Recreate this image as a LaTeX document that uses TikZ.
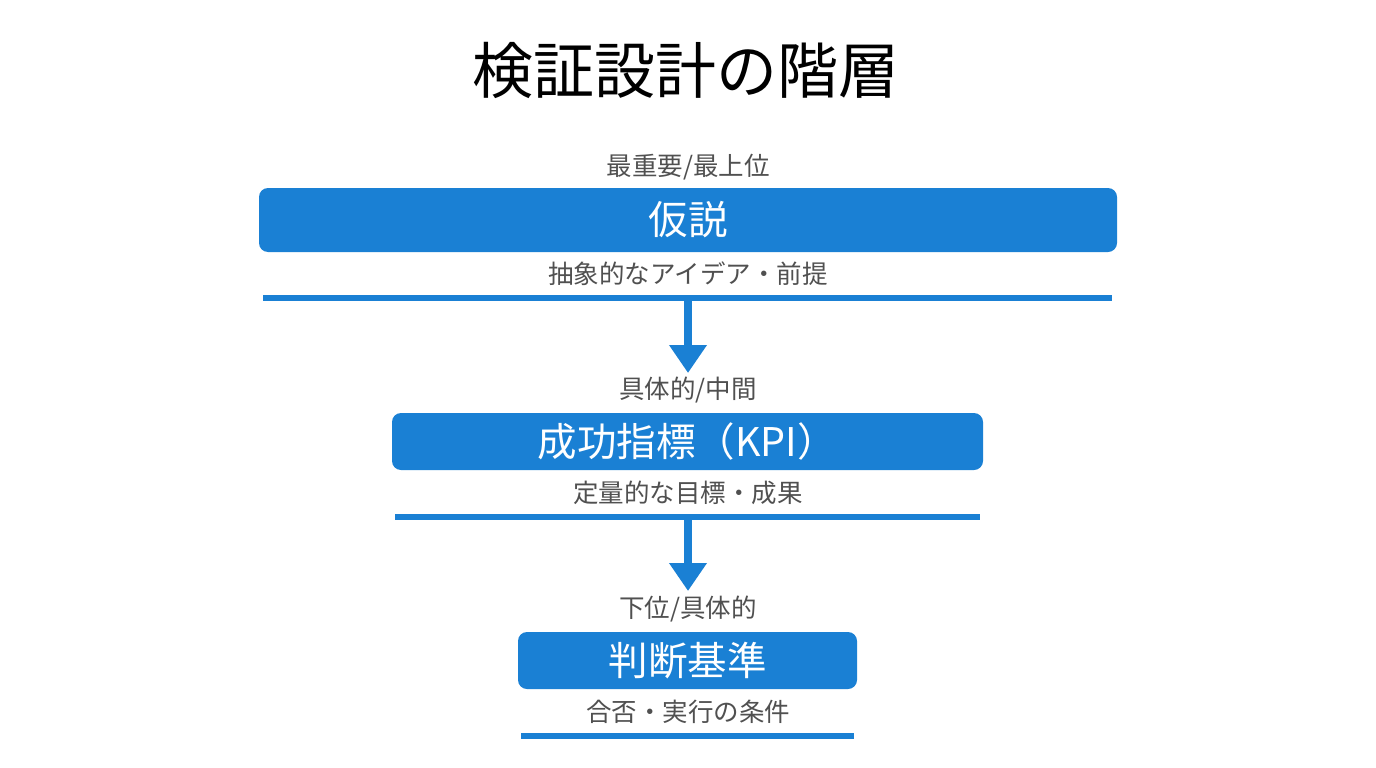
\documentclass[tikz,border=0pt]{standalone}
\usepackage{fontspec}
\setmainfont{Noto Sans CJK JP}
\usetikzlibrary{arrows.meta}
\definecolor{boxblue}{HTML}{1A80D4}
\definecolor{labgray}{HTML}{505050}
\begin{document}
\begin{tikzpicture}[x=1pt,y=-1pt,
  box/.style={fill=boxblue, rounded corners=9pt, inner sep=0pt, text=white, font=\fontsize{39.5}{39.5}\selectfont},
  bar/.style={fill=boxblue, inner sep=0pt, minimum height=6pt},
  lab/.style={text=labgray, inner sep=0pt, font=\fontsize{25.5}{25.5}\selectfont},
  arr/.style={draw=boxblue, line width=8pt, -{Triangle[width=36pt,length=28pt]}}]
\useasboundingbox[fill=white] (0,0) rectangle (1376,768);
\node[inner sep=0pt, font=\fontsize{61}{61}\selectfont] (title) at (686,70) {検証設計の階層};
% level 1
\node[lab] (t1) at (688,167) {最重要/最上位};
\node[box, minimum width=858pt, minimum height=64pt] (b1) at (688,220) {仮説};
\node[lab] (s1) at (688,274) {抽象的なアイデア・前提};
\node[bar, minimum width=849pt] (l1) at (687.5,298) {};
% level 2
\node[lab] (t2) at (688,390) {具体的/中間};
\node[box, minimum width=591pt, minimum height=57pt] (b2) at (687.5,441.5) {成功指標（KPI）};
\node[lab] (s2) at (688,493) {定量的な目標・成果};
\node[bar, minimum width=585pt] (l2) at (687.5,517) {};
% level 3
\node[lab] (t3) at (688,609) {下位/具体的};
\node[box, minimum width=339pt, minimum height=57pt] (b3) at (687.5,660.5) {判断基準};
\node[lab] (s3) at (688,712) {合否・実行の条件};
\node[bar, minimum width=333pt] (l3) at (687.5,736) {};
% arrow ends
\coordinate (e1) at (688,373);
\coordinate (e2) at (688,591);
% arrows
\draw[arr] (l1.south -| e1) -- (e1);
\draw[arr] (l2.south -| e2) -- (e2);
\end{tikzpicture}
\end{document}
